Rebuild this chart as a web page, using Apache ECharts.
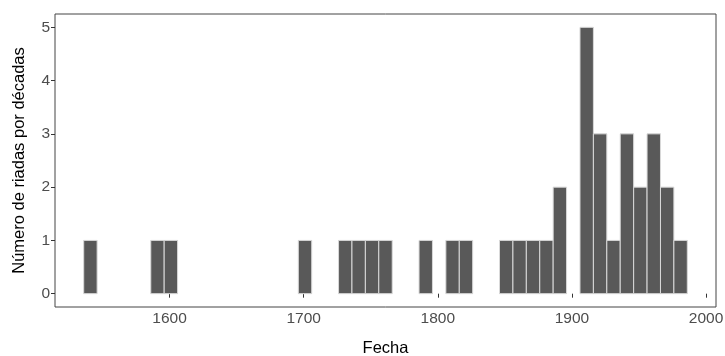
<!DOCTYPE html>
<html>
<head>
    <meta charset="utf-8">
    <title>Riadas por décadas</title>
    <script src="https://cdn.jsdelivr.net/npm/echarts@6.0.0/dist/echarts.min.js"></script>
</head>
<body style="margin:0">
<div id="main" style="width: 725px;height:356px;"></div>
<script type="text/javascript">

    // datos: inicio de cada década (bin de 10 años) y número de riadas
    let binStart = [1536, 1586, 1596, 1696, 1726, 1736, 1746, 1756, 1786, 1806, 1816,
        1846, 1856, 1866, 1876, 1886, 1906, 1916, 1926, 1936, 1946, 1956, 1966, 1976];
    let counts = [1, 1, 1, 1, 1, 1, 1, 1, 1, 1, 1,
        1, 1, 1, 1, 2, 5, 3, 1, 3, 2, 3, 2, 1];
    let binWidth = 10;
    let xTicks = [1600, 1700, 1800, 1900, 2000];
    let yTicks = [0, 1, 2, 3, 4, 5];

    let barData = binStart.map(function (s, i) { return [s, counts[i]]; });

    let labelStyle = {color: '#4d4d4d', fontSize: 15.5, fontFamily: 'Liberation Sans',
        formatter: function (v) { return String(v); }};

    option = {
        animation: false,
        grid: {
            left: 55, right: 9, top: 14, bottom: 49,
            outerBoundsMode: 'none',
            containLabel: false,
            show: true, borderColor: '#444', borderWidth: 1
        },
        xAxis: {
            type: 'value',
            min: 1514.6,
            max: 2007.4,
            name: 'Fecha',
            nameLocation: 'middle',
            nameGap: 33,
            nameTextStyle: {color: '#000', fontSize: 16.5, fontFamily: 'Liberation Sans'},
            splitLine: {show: false},
            axisLine: {show: false},
            axisTick: {show: true, length: 4, lineStyle: {color: '#333'}, customValues: xTicks},
            axisLabel: Object.assign({margin: 4, customValues: xTicks}, labelStyle)
        },
        yAxis: {
            type: 'value',
            min: -0.25,
            max: 5.25,
            name: 'Número de riadas por décadas',
            nameLocation: 'middle',
            nameGap: 27,
            nameTextStyle: {color: '#000', fontSize: 16.5, fontFamily: 'Liberation Sans'},
            splitLine: {show: false},
            axisLine: {show: false},
            axisTick: {show: true, length: 4, lineStyle: {color: '#333'}, customValues: yTicks},
            axisLabel: Object.assign({margin: 5, customValues: yTicks}, labelStyle)
        },
        series: [
            {
                type: 'custom',
                data: barData,
                renderItem: function (params, api) {
                    let s = api.value(0);
                    let p0 = api.coord([s, 0]);
                    let p1 = api.coord([s + binWidth, api.value(1)]);
                    return {
                        type: 'rect',
                        shape: {x: p0[0], y: p1[1], width: p1[0] - p0[0], height: p0[1] - p1[1]},
                        style: {fill: '#595959', stroke: '#d9d9d9', lineWidth: 1}
                    };
                }
            }
        ]
    };

    let myChart = echarts.init(document.getElementById('main'));
    myChart.setOption(option)
</script>
</body>
</html>
